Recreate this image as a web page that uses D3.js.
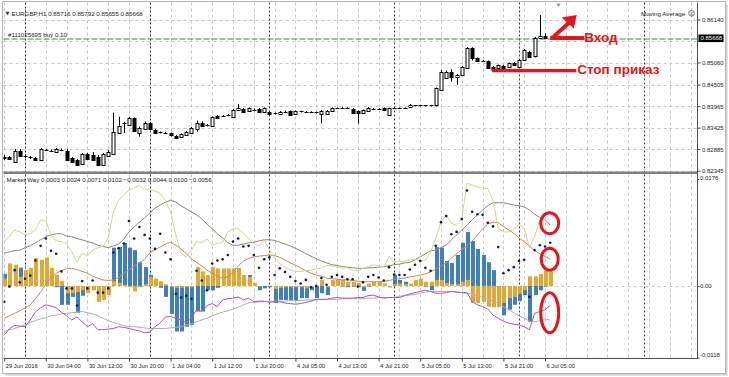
<!DOCTYPE html>
<meta charset="utf-8">
<script src="https://cdn.jsdelivr.net/npm/d3@7"></script>
<style>
body{margin:0;background:#fff;}
svg text{font-family:"Liberation Sans",Arial,sans-serif;}
</style>
<div id="vis"></div>
<script>
// trading sessions (hourly bars), the Friday gap is between them
var sessions = [["2016-06-29 20:00", "2016-07-01 23:00"], ["2016-07-04 00:00", "2016-07-07 14:00"]];

var timeTicks = ["2016-06-29 20:00", "2016-06-30 04:00", "2016-06-30 12:00", "2016-06-30 20:00",
  "2016-07-01 04:00", "2016-07-01 12:00", "2016-07-01 20:00", "2016-07-04 05:00", "2016-07-04 13:00",
  "2016-07-04 21:00", "2016-07-05 05:00", "2016-07-05 13:00", "2016-07-05 21:00", "2016-07-06 05:00"];
var timeLabels = ["29 Jun 2016", "30 Jun 04:00", "30 Jun 12:00", "30 Jun 20:00", "1 Jul 04:00", "1 Jul 12:00",
  "1 Jul 20:00", "4 Jul 05:00", "4 Jul 13:00", "4 Jul 21:00", "5 Jul 05:00", "5 Jul 13:00", "5 Jul 21:00", "6 Jul 05:00"];

// grid levels; the 0.85600 label sits under the current price tag
var priceTicks = [0.86140, 0.85600, 0.85060, 0.84505, 0.83965, 0.83425, 0.82885, 0.82345];
var priceLabels = ["0.86140", "", "0.85060", "0.84505", "0.83965", "0.83425", "0.82885", "0.82345"];
var indTicks = [0.0176, 0, -0.0118];
var indLabels = ["0.0176", "0.00", "-0.0118"];

// EURGBP H1 candles
var opens = [0.82689,0.82689,0.82571,0.82847,0.82702,0.82677,0.82664,0.82602,0.82877,0.82852,
  0.82822,0.82865,0.82840,0.82664,0.82614,0.82514,0.82765,0.82740,0.82697,0.82489,
  0.82714,0.82782,0.83299,0.83530,0.83493,0.83661,0.83299,0.83410,0.83535,0.83367,
  0.83304,0.83292,0.83284,0.83216,0.83184,0.83234,0.83299,0.83410,0.83552,0.83493,
  0.83467,0.83714,0.83713,0.83738,0.83686,0.83852,0.83887,0.83844,0.83874,0.83894,
  0.83801,0.83826,0.83786,0.83769,0.83826,0.83844,0.83769,0.83831,0.83826,0.83816,
  0.83806,0.83769,0.83786,0.83826,0.83912,0.83924,0.83919,0.83894,0.83844,0.83801,
  0.83844,0.83899,0.83894,0.83912,0.83743,0.83912,0.83907,0.83912,0.83937,0.83977,
  0.83982,0.83977,0.83982,0.83977,0.84371,0.84690,0.84830,0.84690,0.84748,0.84916,
  0.85418,0.85167,0.85104,0.85099,0.84956,0.84916,0.84981,0.84941,0.85056,0.84956,
  0.85124,0.85332,0.85207,0.85669,0.85716];
var highs = [0.82740,0.82714,0.82890,0.82890,0.82740,0.82714,0.82689,0.82915,0.82890,0.82877,
  0.82915,0.82903,0.82890,0.82689,0.82639,0.82790,0.82790,0.82815,0.82740,0.82790,
  0.82865,0.83801,0.83701,0.83575,0.83693,0.83681,0.83455,0.83582,0.83568,0.83392,
  0.83329,0.83317,0.83304,0.83242,0.83279,0.83342,0.83442,0.83600,0.83582,0.83518,
  0.83706,0.83743,0.83743,0.83769,0.83894,0.84020,0.83919,0.83932,0.83907,0.83919,
  0.83932,0.83844,0.83806,0.83844,0.83857,0.83857,0.83857,0.83852,0.83844,0.83836,
  0.83826,0.83869,0.83869,0.83932,0.83932,0.83949,0.83937,0.83919,0.83857,0.83882,
  0.83944,0.83919,0.83912,0.83932,0.83927,0.83932,0.83932,0.83932,0.84020,0.83995,
  0.84000,0.83995,0.83995,0.84434,0.84873,0.84860,0.84891,0.84773,0.84973,0.85450,
  0.85443,0.85187,0.85124,0.85111,0.84973,0.85011,0.84999,0.85061,0.85074,0.85149,
  0.85400,0.85350,0.85701,0.86254,0.85792];
var lows = [0.82614,0.82614,0.82564,0.82689,0.82664,0.82639,0.82589,0.82589,0.82840,0.82815,
  0.82815,0.82840,0.82589,0.82551,0.82464,0.82489,0.82614,0.82589,0.82464,0.82464,
  0.82689,0.82765,0.83267,0.83292,0.83467,0.83317,0.83199,0.83392,0.83367,0.83279,
  0.83279,0.83267,0.83204,0.83154,0.83166,0.83216,0.83279,0.83324,0.83442,0.83455,
  0.83442,0.83643,0.83693,0.83714,0.83668,0.83844,0.83806,0.83831,0.83844,0.83806,
  0.83794,0.83731,0.83756,0.83756,0.83806,0.83731,0.83756,0.83806,0.83806,0.83794,
  0.83781,0.83535,0.83769,0.83819,0.83894,0.83907,0.83894,0.83794,0.83535,0.83794,
  0.83831,0.83882,0.83869,0.83844,0.83731,0.83894,0.83894,0.83894,0.83919,0.83957,
  0.83957,0.83957,0.83957,0.83957,0.84358,0.84672,0.84579,0.84497,0.84722,0.84898,
  0.85111,0.85086,0.85074,0.84898,0.84873,0.84898,0.84911,0.84923,0.84986,0.84948,
  0.85099,0.85199,0.85187,0.85651,0.85655];
var closes = [0.82664,0.82639,0.82847,0.82722,0.82697,0.82672,0.82614,0.82890,0.82865,0.82847,
  0.82890,0.82857,0.82614,0.82571,0.82489,0.82765,0.82639,0.82614,0.82489,0.82765,
  0.82815,0.83324,0.83467,0.83535,0.83661,0.83324,0.83425,0.83552,0.83385,0.83299,
  0.83299,0.83284,0.83225,0.83174,0.83259,0.83317,0.83425,0.83552,0.83467,0.83485,
  0.83686,0.83661,0.83714,0.83743,0.83869,0.83912,0.83819,0.83912,0.83869,0.83819,
  0.83912,0.83769,0.83781,0.83826,0.83821,0.83743,0.83844,0.83826,0.83821,0.83811,
  0.83801,0.83844,0.83852,0.83912,0.83907,0.83927,0.83912,0.83801,0.83786,0.83869,
  0.83927,0.83894,0.83889,0.83852,0.83912,0.83907,0.83912,0.83907,0.83995,0.83982,
  0.83977,0.83982,0.83977,0.84414,0.84830,0.84830,0.84705,0.84748,0.84956,0.85418,
  0.85167,0.85099,0.85099,0.84916,0.84891,0.84999,0.84931,0.85041,0.84999,0.85124,
  0.85375,0.85207,0.85669,0.85726,0.85668];

// Market Way buffers
var mwBlue = [.0020,.0020,.0020,.0030,.0015,.0012,.0010,.0005,.0000,.0000,
  -.0002,-.0031,-.0031,-.0018,-.0044,-.0016,-.0007,-.0005,-.0007,-.0005,
  -.0003,.0063,.0064,.0071,.0063,.0059,.0039,.0031,.0018,.0003,
  -.0003,-.0018,-.0046,-.0075,-.0075,-.0067,-.0064,-.0042,-.0042,-.0007,
  -.0007,-.0003,.0002,.0003,.0026,.0029,.0018,.0018,.0000,-.0007,
  -.0004,-.0002,-.0028,-.0023,-.0023,-.0023,-.0024,-.0020,-.0020,-.0007,
  -.0020,-.0012,-.0015,.0000,.0000,-.0001,-.0002,-.0001,-.0002,-.0008,
  -.0001,.0000,.0000,.0000,-.0002,.0018,.0010,.0007,.0002,.0010,
  .0003,-.0001,-.0007,.0064,.0063,.0041,.0038,.0051,.0071,.0089,
  .0074,.0061,.0051,.0039,.0026,-.0007,-.0048,-.0039,-.0031,-.0025,
  -.0015,-.0059,-.0015,-.0007,-.0001,.0003];
var mwYellow = [.0012,.0037,.0035,.0015,.0026,.0030,.0046,.0043,.0047,.0030,
  .0018,.0008,-.0012,-.0012,-.0010,-.0007,-.0012,-.0007,-.0026,-.0023,
  -.0015,.0008,.0005,.0002,-.0002,-.0009,-.0002,.0003,.0015,.0012,
  .0008,.0003,-.0002,-.0003,-.0003,-.0002,-.0002,.0031,.0024,.0018,
  .0031,.0029,.0029,.0029,.0029,.0029,.0018,.0015,.0005,-.0001,
  .0000,.0000,-.0005,-.0003,-.0002,-.0002,-.0002,-.0002,-.0004,-.0002,
  .0000,.0010,-.0002,.0010,.0010,.0010,.0007,.0007,.0005,-.0002,
  .0004,.0007,.0007,.0004,-.0002,.0003,.0004,.0003,.0004,.0010,
  .0012,.0007,.0007,.0010,.0010,.0005,.0003,.0003,.0007,.0010,
  -.0028,-.0028,-.0026,-.0034,-.0035,-.0035,-.0028,-.0020,-.0018,-.0013,
  -.0007,.0016,.0016,.0020,.0025,.0024];
var mwDots = [-.0026,-.0001,.0026,.0006,.0012,.0017,.0042,.0066,.0078,.0058,
  .0053,.0024,-.0004,-.0004,-.0032,.0008,-.0004,.0009,-.0011,-.0011,
  -.0004,.0055,.0062,.0070,.0107,.0078,.0097,.0084,.0078,.0061,
  .0086,.0055,.0044,-.0013,-.0019,-.0016,-.0021,.0025,.0009,-.0007,
  .0037,.0042,.0044,.0051,.0073,.0078,.0065,.0066,.0051,.0030,
  .0044,.0047,.0018,.0029,.0023,.0015,.0008,.0004,.0010,-.0002,
  .0000,.0013,.0002,.0015,.0018,.0015,.0011,.0011,-.0001,.0006,
  .0015,.0018,.0014,.0009,.0031,.0019,.0018,.0018,.0027,.0035,
  .0041,.0030,.0025,.0066,.0105,.0115,.0085,.0089,.0110,.0157,
  .0122,.0118,.0117,.0104,.0098,.0064,.0021,.0026,.0031,.0041,
  .0043,-.0018,.0059,.0067,.0065,.0071];
var mwKhaki = [.0073,.0082,.0092,.0089,.0084,.0086,.0092,.0109,.0107,.0084,
  .0074,.0073,.0070,.0056,.0039,.0054,.0049,.0059,.0063,.0065,
  .0079,.0122,.0141,.0150,.0158,.0161,.0166,.0158,.0160,.0156,
  .0152,.0141,.0122,.0084,.0054,.0048,.0059,.0073,.0071,.0077,
  .0067,.0070,.0072,.0089,.0094,.0094,.0087,.0078,.0070,.0066,
  .0076,.0059,.0046,.0037,.0031,.0026,.0024,.0024,.0025,.0026,
  .0029,.0029,.0034,.0033,.0031,.0029,.0030,.0026,.0025,.0029,
  .0032,.0035,.0033,.0031,.0048,.0040,.0040,.0041,.0043,.0044,
  .0042,.0042,.0056,.0079,.0105,.0117,.0103,.0100,.0111,.0169,
  .0166,.0163,.0161,.0160,.0141,.0095,.0089,.0089,.0093,.0102,
  .0095,.0063,.0081,.0109,.0109,.0102];
var mwGray = [.0054,.0056,.0058,.0059,.0063,.0066,.0071,.0076,.0081,.0084,
  .0086,.0086,.0082,.0081,.0078,.0076,.0073,.0071,.0067,.0065,
  .0063,.0066,.0069,.0077,.0089,.0097,.0105,.0112,.0120,.0128,
  .0133,.0138,.0141,.0138,.0132,.0127,.0122,.0117,.0110,.0102,
  .0094,.0086,.0079,.0071,.0067,.0067,.0069,.0071,.0072,.0074,
  .0076,.0076,.0075,.0072,.0069,.0066,.0062,.0058,.0053,.0049,
  .0045,.0041,.0038,.0035,.0034,.0032,.0031,.0030,.0029,.0029,
  .0030,.0030,.0031,.0032,.0033,.0035,.0036,.0038,.0039,.0043,
  .0048,.0053,.0058,.0059,.0063,.0067,.0076,.0084,.0092,.0100,
  .0109,.0117,.0125,.0132,.0137,.0137,.0137,.0135,.0133,.0132,
  .0130,.0125,.0118,.0113,.0109,.0100];
var mwBrown = [-.0053,-.0049,-.0045,-.0041,-.0036,-.0031,-.0021,-.0010,.0003,.0013,
  .0021,.0025,.0029,.0029,.0027,.0024,.0021,.0016,.0013,.0010,
  .0009,.0010,.0014,.0020,.0027,.0033,.0038,.0044,.0054,.0060,
  .0064,.0069,.0072,.0067,.0061,.0053,.0045,.0039,.0033,.0026,
  .0021,.0016,.0013,.0015,.0023,.0033,.0041,.0045,.0048,.0049,
  .0050,.0051,.0050,.0047,.0043,.0038,.0034,.0030,.0025,.0021,
  .0018,.0016,.0013,.0012,.0011,.0010,.0010,.0009,.0008,.0007,
  .0007,.0007,.0007,.0008,.0009,.0011,.0012,.0013,.0015,.0016,
  .0018,.0020,.0023,.0028,.0033,.0038,.0046,.0053,.0060,.0066,
  .0074,.0084,.0094,.0102,.0105,.0104,.0098,.0092,.0087,.0079,
  .0073,.0066,.0058,.0053,.0049,.0044];
var mwPurple = [-.0081,-.0070,-.0065,-.0066,-.0067,-.0056,-.0043,-.0036,-.0031,-.0033,
  -.0036,-.0043,-.0049,-.0056,-.0051,-.0059,-.0067,-.0062,-.0072,-.0072,
  -.0071,-.0070,-.0067,-.0068,-.0070,-.0072,-.0074,-.0077,-.0076,-.0067,
  -.0061,-.0051,-.0050,-.0053,-.0056,-.0061,-.0053,-.0039,-.0042,-.0032,
  -.0029,-.0034,-.0023,-.0021,-.0020,-.0018,-.0023,-.0020,-.0026,-.0025,
  -.0025,-.0027,-.0026,-.0026,-.0028,-.0029,-.0030,-.0029,-.0027,-.0025,
  -.0022,-.0022,-.0022,-.0020,-.0019,-.0020,-.0020,-.0020,-.0019,-.0019,
  -.0016,-.0015,-.0018,-.0020,-.0019,-.0019,-.0019,-.0016,-.0013,-.0011,
  -.0009,-.0007,-.0009,-.0012,-.0012,-.0011,-.0009,-.0010,-.0011,-.0011,
  -.0026,-.0031,-.0034,-.0038,-.0048,-.0053,-.0058,-.0061,-.0063,-.0064,
  -.0067,-.0072,-.0045,-.0042,-.0039,-.0032];
var mwLilac = [-.0075,-.0072,-.0070,-.0067,-.0064,-.0060,-.0057,-.0054,-.0052,-.0049,
  -.0048,-.0046,-.0045,-.0044,-.0043,-.0042,-.0044,-.0046,-.0049,-.0053,
  -.0057,-.0060,-.0063,-.0065,-.0067,-.0067,-.0068,-.0069,-.0070,-.0070,
  -.0070,-.0070,-.0069,-.0068,-.0067,-.0064,-.0062,-.0059,-.0056,-.0053,
  -.0049,-.0046,-.0043,-.0041,-.0038,-.0035,-.0031,-.0028,-.0027,-.0026,
  -.0026,-.0025,-.0025,-.0025,-.0025,-.0024,-.0024,-.0024,-.0023,-.0023,
  -.0023,-.0022,-.0022,-.0022,-.0022,-.0021,-.0021,-.0021,-.0021,-.0021,
  -.0020,-.0020,-.0019,-.0019,-.0019,-.0019,-.0017,-.0016,-.0015,-.0014,
  -.0012,-.0010,-.0009,-.0009,-.0009,-.0009,-.0009,-.0010,-.0011,-.0012,
  -.0014,-.0016,-.0019,-.0021,-.0025,-.0028,-.0034,-.0039,-.0044,-.0049,
  -.0053,-.0058,-.0059,-.0057,-.0054,-.0056];

var orderPrice = 0.8565, stopPrice = 0.8486;

var width = 729, height = 377;
var plotL = 3.5, plotR = 697.5, mainTop = 2.5, mainBot = 171.5, lowTop = 174.5, lowBot = 358.5;
var red = "#e3161c";

var parse = d3.timeParse("%Y-%m-%d %H:%M");
var times = [];
sessions.forEach(function (s) { times = times.concat(d3.timeHour.range(parse(s[0]), parse(s[1]))); });
var keys = times.map(function (t) { return +t; });

var x = d3.scalePoint().domain(keys).range([4.2, 4.2 + 5.2 * (keys.length - 1)]);
var yPrice = d3.scaleLinear().domain([0.82345, 0.86140]).range([170.7, 19.5]);
var yInd = d3.scaleLinear().domain([-0.0118, 0.0176]).range([357.7, 179]);

var svg = d3.select("#vis").append("svg")
    .attr("width", width)
    .attr("height", height);

// window frame with a soft shadow
svg.append("rect").attr("x", 6).attr("y", 5).attr("width", 722).attr("height", 371).attr("fill", "#e4e4e4");
svg.append("rect").attr("x", 5).attr("y", 4).attr("width", 722).attr("height", 371).attr("fill", "#d2d2d2");
svg.append("rect").attr("x", plotL - 1).attr("y", mainTop - 1).attr("width", 723).attr("height", 372)
    .attr("fill", "#fff").attr("stroke", "#b4b4b4");

var defs = svg.append("defs");
defs.append("clipPath").attr("id", "clipMain").append("rect")
    .attr("x", plotL).attr("y", mainTop).attr("width", plotR - plotL).attr("height", mainBot - mainTop);
defs.append("clipPath").attr("id", "clipLow").append("rect")
    .attr("x", plotL).attr("y", lowTop).attr("width", plotR - plotL).attr("height", lowBot - lowTop);

var candleKeys = keys.slice(0, opens.length);
var indKeys = keys.slice(0, mwBlue.length);

// grid
var gridKeys = keys.filter(function (d, i) { return i % 4 === 0 && x(d) < plotR - 1; });
[[mainTop, mainBot], [lowTop, lowBot]].forEach(function (r) {
  svg.append("g").selectAll("line").data(gridKeys).enter().append("line")
      .attr("x1", function (d) { return Math.round(x(d)) + 0.5; })
      .attr("x2", function (d) { return Math.round(x(d)) + 0.5; })
      .attr("y1", r[0]).attr("y2", r[1])
      .attr("stroke", "#c4c4c4").attr("stroke-dasharray", "3,3");
});
svg.append("g").selectAll("line").data(priceTicks).enter().append("line")
    .attr("x1", plotL).attr("x2", plotR)
    .attr("y1", function (d) { return Math.round(yPrice(d)) + 0.5; })
    .attr("y2", function (d) { return Math.round(yPrice(d)) + 0.5; })
    .attr("stroke", "#c4c4c4").attr("stroke-dasharray", "3,3");
svg.append("line").attr("x1", plotL).attr("x2", plotR)
    .attr("y1", Math.round(yInd(0)) + 0.5).attr("y2", Math.round(yInd(0)) + 0.5)
    .attr("stroke", "#c4c4c4").attr("stroke-dasharray", "3,3");

// day separators
var dayKeys = keys.filter(function (d) { return new Date(d).getHours() === 0 && x(d) < plotR; });
svg.append("g").selectAll("line").data(dayKeys).enter().append("line")
    .attr("x1", function (d) { return Math.round(x(d)) + 0.5; })
    .attr("x2", function (d) { return Math.round(x(d)) + 0.5; })
    .attr("y1", mainTop).attr("y2", lowBot)
    .attr("stroke", "#3a3a3a").attr("stroke-dasharray", "2,2");

// order line
svg.append("line").attr("x1", plotL).attr("x2", plotR)
    .attr("y1", yPrice(orderPrice)).attr("y2", yPrice(orderPrice))
    .attr("stroke", "#3f8a3c").attr("stroke-dasharray", "6,2");

// candles
var main = svg.append("g").attr("clip-path", "url(#clipMain)");
var candle = main.selectAll("g.candle").data(candleKeys).enter().append("g").attr("class", "candle");
candle.append("line")
    .attr("x1", function (d) { return Math.round(x(d)) + 0.5; })
    .attr("x2", function (d) { return Math.round(x(d)) + 0.5; })
    .attr("y1", function (d, i) { return yPrice(highs[i]); })
    .attr("y2", function (d, i) { return yPrice(lows[i]); })
    .attr("stroke", "#000");
candle.append("rect")
    .attr("x", function (d) { return Math.round(x(d)) - 1; })
    .attr("width", 3)
    .attr("y", function (d, i) { return Math.round(yPrice(Math.max(opens[i], closes[i]))) + 0.5; })
    .attr("height", function (d, i) { return Math.max(0.01, Math.round(Math.abs(yPrice(opens[i]) - yPrice(closes[i])))); })
    .attr("fill", function (d, i) { return closes[i] >= opens[i] ? "#fff" : "#000"; })
    .attr("stroke", "#000");

// lower panel
var low = svg.append("g").attr("clip-path", "url(#clipLow)");
function bars(values, color) {
  low.append("g").selectAll("rect").data(indKeys).enter().append("rect")
      .attr("x", function (d) { return Math.round(x(d)) - 1; })
      .attr("width", 4)
      .attr("y", function (d, i) { return Math.min(yInd(values[i]), yInd(0)); })
      .attr("height", function (d, i) { return Math.abs(yInd(values[i]) - yInd(0)); })
      .attr("fill", color);
}
bars(mwBlue, "#4080b8");
bars(mwYellow, "#e2a832");

var line = d3.line().x(function (d) { return x(d[0]); }).y(function (d) { return yInd(d[1]); });
[[mwLilac, "#b4a6c6"], [mwPurple, "#a957b8"], [mwBrown, "#c7865c"], [mwGray, "#8d8672"], [mwKhaki, "#cfd68e"]]
  .forEach(function (s) {
    low.append("path")
        .datum(indKeys.map(function (k, i) { return [k, s[0][i]]; }))
        .attr("d", line).attr("fill", "none").attr("stroke", s[1]).attr("stroke-width", 1);
  });
low.append("g").selectAll("circle").data(indKeys).enter().append("circle")
    .attr("cx", function (d) { return x(d); })
    .attr("cy", function (d, i) { return yInd(mwDots[i]); })
    .attr("r", 1.3).attr("fill", "#15155e");

// panel borders
svg.append("rect").attr("x", plotL).attr("y", 171.5).attr("width", plotR - plotL).attr("height", 2.5).attr("fill", "#808080");
svg.append("line").attr("x1", plotR).attr("x2", plotR).attr("y1", mainTop).attr("y2", lowBot).attr("stroke", "#505050");
svg.append("line").attr("x1", plotL).attr("x2", plotR).attr("y1", lowBot).attr("y2", lowBot).attr("stroke", "#505050");

// axes
function styleAxis(g, size) {
  g.select(".domain").remove();
  g.selectAll(".tick line").attr("stroke", "#444");
  g.selectAll(".tick text").attr("fill", "#222").style("font-size", size + "px");
}
var priceAxis = svg.append("g").attr("transform", "translate(" + plotR + ",0)")
    .call(d3.axisRight(yPrice).tickValues(priceTicks).tickFormat(function (d, i) { return priceLabels[i]; }).tickSize(3).tickPadding(1.5))
    .call(styleAxis, 6);
priceAxis.selectAll(".tick text").filter(function (d, i) { return priceLabels[i] === ""; }).remove();
var lowAxis = svg.append("g").attr("transform", "translate(" + plotR + ",0)")
    .call(d3.axisRight(yInd).tickValues(indTicks).tickFormat(function (d, i) { return indLabels[i]; }).tickSize(2).tickPadding(0.5))
    .call(styleAxis, 6);
lowAxis.selectAll(".tick text").filter(function (d) { return d < 0; }).attr("dy", "-0.2em");
lowAxis.selectAll(".tick text").filter(function (d) { return d > 0.01; }).attr("dy", "0.15em");

var tickKeys = timeTicks.map(function (t) { return +parse(t); });
svg.append("g").attr("transform", "translate(0," + lowBot + ")")
    .call(d3.axisBottom(x).tickValues(tickKeys).tickFormat(function (d, i) { return timeLabels[i]; }).tickSize(3).tickPadding(2))
    .call(styleAxis, 5.8)
    .selectAll(".tick text").attr("text-anchor", "start").attr("x", 1);

// current price tag
var last = closes.length - 1;
svg.append("rect").attr("x", plotR + 1).attr("y", yPrice(closes[last]) - 3.8)
    .attr("width", 25).attr("height", 7.6).attr("fill", "#000");
svg.append("text").attr("x", plotR + 3).attr("y", yPrice(closes[last]) + 2.1)
    .attr("fill", "#fff").style("font-size", "6px").text(d3.format(".5f")(closes[last]));

// chart shift marker
svg.append("path").attr("d", "M556,3.5L561,3.5L558.5,7Z").attr("fill", "#9c9c9c");

// headers
var f5 = d3.format(".5f"), f4 = d3.format(".4f");
svg.append("text").attr("x", 5.5).attr("y", 15).style("font-size", "5px").attr("fill", "#333")
    .style("font-family", "DejaVu Sans").text("▼");
svg.append("text").attr("x", 11.5).attr("y", 15.5).style("font-size", "6.2px").attr("fill", "#1a1a1a")
    .text("EURGBP,H1  " + [opens[last], highs[last], lows[last], closes[last]].map(f5).join(" "));
svg.append("text").attr("x", 8).attr("y", 36.6).style("font-size", "6.2px").attr("fill", "#1a1a1a")
    .text("#111025695 buy 0.10");
svg.append("text").attr("x", 641).attr("y", 15.5).style("font-size", "6.2px").attr("fill", "#1a1a1a")
    .text("Moving Average");
svg.append("circle").attr("cx", 691.5).attr("cy", 13.3).attr("r", 2.8).attr("fill", "none").attr("stroke", "#444").attr("stroke-width", 0.7);
svg.append("text").attr("x", 691.5).attr("y", 15.2).attr("text-anchor", "middle").style("font-size", "5px").attr("fill", "#333").text("x");
var mwLast = [mwBlue, mwYellow, mwDots, mwKhaki, mwPurple, mwBrown, mwGray, mwLilac].map(function (a) { return f4(a[a.length - 1]); });
svg.append("text").attr("x", 6.5).attr("y", 182.3).style("font-size", "6.2px").attr("fill", "#1a1a1a")
    .text("Market Way " + mwLast.join(" "));

// hand-drawn annotations
var ax = x(keys[105]), ay = yPrice(orderPrice) - 1;
svg.append("rect").attr("x", ax).attr("y", ay - 2).attr("width", 34).attr("height", 4).attr("fill", red);
svg.append("line").attr("x1", ax + 2).attr("y1", ay).attr("x2", ax + 19).attr("y2", ay - 15.5)
    .attr("stroke", red).attr("stroke-width", 4);
svg.append("path").attr("d", "M" + (ax + 26.5) + "," + (ay - 23) + "L" + (ax + 11.5) + "," + (ay - 20.5) + "L" + (ax + 23.5) + "," + (ay - 9.5) + "Z")
    .attr("fill", red);
svg.append("text").attr("x", ax + 34).attr("y", ay + 4.3).style("font-size", "13.5px").style("font-weight", "bold")
    .attr("fill", red).text("Вход");

var sy = yPrice(stopPrice);
svg.append("rect").attr("x", x(keys[94]) - 1).attr("y", sy - 1.6).attr("width", x(keys[110]) - x(keys[94]) + 1)
    .attr("height", 3.4).attr("fill", red);
svg.append("text").attr("x", x(keys[110]) + 1).attr("y", sy + 3.5).style("font-size", "13.5px").style("font-weight", "bold")
    .attr("fill", red).text("Стоп приказ");

var ex = x(keys[105]) - 0.5;
[[yInd(mwGray[105]) - 2, 9, 10.5],
 [yInd(mwBrown[105]), 8.5, 11],
 [(yInd(mwPurple[105]) + yInd(mwLilac[105])) / 2, 9, 20]].forEach(function (e) {
  svg.append("ellipse").attr("cx", ex).attr("cy", e[0]).attr("rx", e[1]).attr("ry", e[2])
      .attr("fill", "none").attr("stroke", red).attr("stroke-width", 3);
});
</script>
